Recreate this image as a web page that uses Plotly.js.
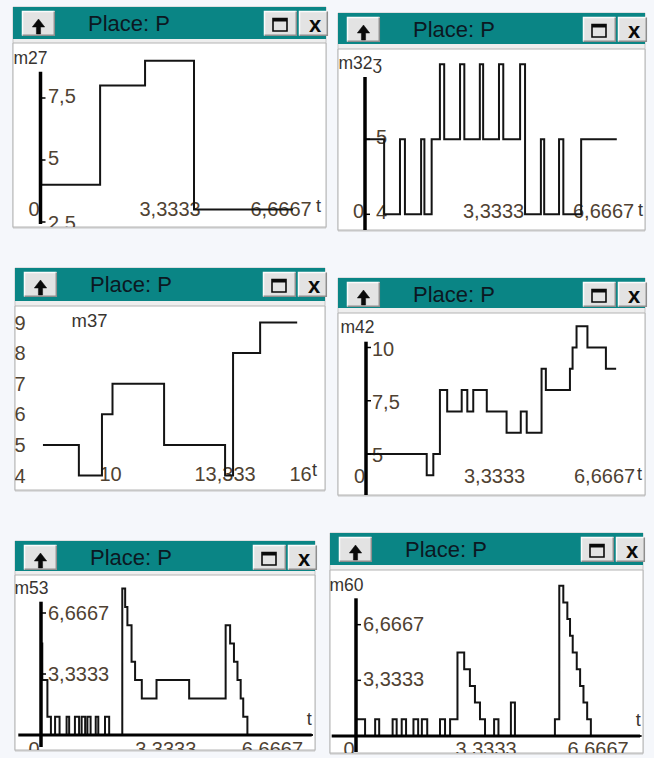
<!DOCTYPE html>
<html><head><meta charset="utf-8">
<script src="https://cdn.plot.ly/plotly-3.0.1.min.js"></script>
<style>html,body{margin:0;padding:0;background:#f5f7fb;}#chart{width:654px;height:758px;}</style>
</head><body><div id="chart"></div>
<script>
// ---------------- data ----------------
const title_text = 'Place: P';

const p1_name = 'm27';
const p1_t = [0, 0.02, 1.79, 3.14, 4.61, 7.58];
const p1_v = [5, 4, 8, 9, 3, 3];
const p1_yTicks = [2.5, 5, 7.5];
const p1_yText = ['2,5', '5', '7,5'];
const p1_xTicks = [0, 3.3333, 6.6667];
const p1_xText = ['0', '3,3333', '6,6667'];

const p2_name = 'm32ʒ';
const p2_t = [0, 0.58, 1.06, 1.21, 1.70, 1.80, 2.02, 2.27, 2.40, 2.88, 3.01, 3.48, 3.58, 4.06, 4.19, 4.70, 4.85, 5.33, 5.43, 5.88, 6.01, 6.55, 7.63];
const p2_v = [5, 4, 5, 4, 5, 4, 5, 6, 5, 6, 5, 6, 5, 6, 5, 6, 4, 5, 4, 5, 4, 5, 5];
const p2_yTicks = [4, 5];
const p2_yText = ['4', '5'];
const p2_xTicks = [0, 3.3333, 6.6667];
const p2_xText = ['0', '3,3333', '6,6667'];

const p3_name = 'm37';
const p3_t = [7.56, 8.82, 9.63, 10, 11.81, 13.95, 14.23, 15.18, 16.48];
const p3_v = [5, 4, 6, 7, 5, 4, 8, 9, 9];
const p3_yTicks = [4, 5, 6, 7, 8, 9];
const p3_yText = ['4', '5', '6', '7', '8', '9'];
const p3_xTicks = [10, 13.333, 16.667];
const p3_xText = ['10', '13,333', '16'];

const p4_name = 'm42';
const p4_t = [0, 1.84, 2.04, 2.24, 2.46, 2.90, 3.07, 3.25, 3.66, 4.26, 4.69, 4.87, 5.32, 5.45, 6.18, 6.26, 6.38, 6.71, 7.27, 7.58];
const p4_v = [5, 4, 5, 8, 7, 8, 7, 8, 7, 6, 7, 6, 9, 8, 9, 10, 11, 10, 9, 9];
const p4_yTicks = [5, 7.5, 10];
const p4_yText = ['5', '7,5', '10'];
const p4_xTicks = [0, 3.3333, 6.6667];
const p4_xText = ['0', '3,3333', '6,6667'];

const p5_name = 'm53';
const p5_t = [0, 0.04, 0.2, 0.31, 0.44, 0.58, 0.8, 0.88, 1.06, 1.19, 1.27, 1.38, 1.45, 1.55, 1.71, 1.79, 2.0, 2.13, 2.54, 2.63, 2.7, 2.83, 2.94, 3.15, 3.61, 4.63, 5.77, 5.91, 6.03, 6.14, 6.24, 6.32, 6.45, 8.5];
const p5_v = [5, 3, 1, 0, 1, 0, 1, 0, 1, 0, 1, 0, 1, 0, 1, 0, 1, 0, 8, 7, 6, 4, 3, 2, 3, 2, 6, 5, 4, 3, 2, 1, 0, 0];
const p5_yTicks = [3.3333, 6.6667];
const p5_yText = ['3,3333', '6,6667'];
const p5_xTicks = [0, 3.3333, 6.6667];
const p5_xText = ['0', '3,3333', '6,6667'];

const p6_name = 'm60';
const p6_t = [0, 0.27, 0.57, 0.69, 1.09, 1.21, 1.36, 1.49, 1.71, 1.85, 1.96, 2.12, 2.5, 2.65, 2.8, 3.02, 3.22, 3.39, 3.54, 3.69, 3.84, 4.11, 4.24, 4.61, 4.73, 5.92, 6.05, 6.17, 6.29, 6.37, 6.45, 6.57, 6.67, 6.77, 6.88, 6.99, 8.5];
const p6_v = [1, 0, 1, 0, 1, 0, 1, 0, 1, 0, 1, 0, 1, 0, 1, 5, 4, 3, 2, 1, 0, 1, 0, 2, 0, 1, 9, 8, 7, 6, 5, 4, 3, 2, 1, 0, 0];
const p6_yTicks = [3.3333, 6.6667];
const p6_yText = ['3,3333', '6,6667'];
const p6_xTicks = [0, 3.3333, 6.6667];
const p6_xText = ['0', '3,3333', '6,6667'];

// ---------------- layout geometry (pixels) ----------------
const W = 654, H = 758;
const FONT = 'Liberation Sans, Arial, sans-serif';
const TEAL = '#0a8585';
const LAB = '#4f4232';
const NAMEC = '#383430';

const panels = [
  {name:p1_name, t:p1_t, v:p1_v, yT:p1_yTicks, yL:p1_yText, xT:p1_xTicks, xL:p1_xText,
   win:{L:13, R:326, T:7, TB:39, PT:43, B:227}, sc:{x0:40.5, xPx:33.3, y0:284, yPx:24.8},
   yAxis:[71.7, 224], xAxis:null,
   lab:{nameX:13.5, nameY:60, tX:316, tY:207, yLabX:48, xLabY:211, yOff:0, xOff:-12, nameSize:17.5, lowOff:3}},
  {name:p2_name, t:p2_t, v:p2_v, yT:p2_yTicks, yL:p2_yText, xT:p2_xTicks, xL:p2_xText,
   win:{L:338, R:645, T:13, TB:44, PT:49, B:230}, sc:{x0:365, xPx:33, y0:514.3, yPx:75},
   yAxis:[77, 232], xAxis:null,
   lab:{nameX:338.5, nameY:65, tX:638, tY:211, yLabX:376, xLabY:213, yOff:0, xOff:-12, nameSize:17.5, lowOff:0}},
  {name:p3_name, t:p3_t, v:p3_v, yT:p3_yTicks, yL:p3_yText, xT:p3_xTicks, xL:p3_xText,
   win:{L:15, R:325, T:268, TB:301, PT:306, B:490}, sc:{x0:-172.5, xPx:28.5, y0:597.9, yPx:30.6},
   yAxis:null, xAxis:null,
   lab:{nameX:71.5, nameY:322.7, tX:312, tY:471, yLabX:14.5, xLabY:476, yOff:2, xOff:-13, nameSize:18.5, lowOff:0}},
  {name:p4_name, t:p4_t, v:p4_v, yT:p4_yTicks, yL:p4_yText, xT:p4_xTicks, xL:p4_xText,
   win:{L:338, R:645, T:278, TB:308, PT:313, B:495}, sc:{x0:366, xPx:33, y0:560.5, yPx:21.3},
   yAxis:[341.7, 497], xAxis:null,
   lab:{nameX:340.5, nameY:328.3, tX:637, tY:475.7, yLabX:372, xLabY:478, yOff:3, xOff:-12, nameSize:17.5, lowOff:0}},
  {name:p5_name, t:p5_t, v:p5_v, yT:p5_yTicks, yL:p5_yText, xT:p5_xTicks, xL:p5_xText,
   win:{L:15, R:315, T:541, TB:571, PT:575, B:750}, sc:{x0:41, xPx:32, y0:735, yPx:18.3},
   yAxis:[601.7, 747], xAxis:[18.3, 311.7],
   lab:{nameX:14.5, nameY:590, tX:306.7, tY:720, yLabX:48, xLabY:751, yOff:2, xOff:-12.5, nameSize:17.5, lowOff:0}},
  {name:p6_name, t:p6_t, v:p6_v, yT:p6_yTicks, yL:p6_yText, xT:p6_xTicks, xL:p6_xText,
   win:{L:330, R:643, T:533, TB:565, PT:570, B:753}, sc:{x0:356, xPx:33.6, y0:736, yPx:16.7},
   yAxis:[598.3, 752], xAxis:[331.7, 640],
   lab:{nameX:329.5, nameY:586.7, tX:635.7, tY:721.7, yLabX:363, xLabY:751, yOff:1, xOff:-12.5, nameSize:17.5, lowOff:0}}
];

const X = p => p / W;
const Y = p => 1 - p / H;

const traces = [];
const shapes = [];
const annotations = [];
const layout = {
  width: W, height: H, margin: {l:0, r:0, t:0, b:0},
  paper_bgcolor: '#f5f7fb', plot_bgcolor: 'rgba(0,0,0,0)',
  showlegend: false, hovermode: false,
  shapes: shapes, annotations: annotations
};

function rectP(x0, y0, x1, y1, fill, line, lw) {
  shapes.push({type:'rect', xref:'paper', yref:'paper', layer:'below',
    x0:X(x0), x1:X(x1), y0:Y(y1), y1:Y(y0),
    fillcolor: fill, line:{color: line || 'rgba(0,0,0,0)', width: lw || 0}});
}
function pathP(pts, fill, line, lw, layer) {
  let d = '';
  pts.forEach((p, i) => { d += (i ? ' L ' : 'M ') + X(p[0]).toFixed(5) + ',' + Y(p[1]).toFixed(5); });
  if (fill) d += ' Z';
  shapes.push({type:'path', xref:'paper', yref:'paper', layer: layer || 'below', path: d,
    fillcolor: fill || 'rgba(0,0,0,0)', line:{color: line || 'rgba(0,0,0,0)', width: lw || 0}});
}
function button(x0, y0, x1, y1) {
  rectP(x0, y0, x1, y1, '#e3e3e3');
  pathP([[x0 + 0.5, y1 - 0.5], [x0 + 0.5, y0 + 0.5], [x1 - 0.5, y0 + 0.5]], null, '#fbfbfb', 1.5);
  pathP([[x0 + 0.5, y1 - 0.7], [x1 - 0.7, y1 - 0.7], [x1 - 0.7, y0 + 0.5]], null, '#8e8e8e', 1.5);
}

panels.forEach((p, i) => {
  const s = i === 0 ? '' : String(i + 1);
  const w = p.win, sc = p.sc, lb = p.lab;
  const px2t = px => (px - sc.x0) / sc.xPx;
  const py2v = py => (sc.y0 - py) / sc.yPx;

  // window chrome
  rectP(w.L, w.T, w.R, w.B + 1, '#eeeeee', '#c6c6c6', 1);
  rectP(w.L, w.T, w.R, w.TB, TEAL);
  rectP(w.L, w.PT, w.R, w.B, '#ffffff', '#b4b4b4', 1);
  const bt = w.T + 4, bb = w.T + 29;
  button(w.L + 9, bt, w.L + 42, bb);
  button(w.R - 62, bt, w.R - 29, bb);
  button(w.R - 27, bt, w.R + 2, bb);
  // up arrow
  const cx = w.L + 25.5;
  pathP([[cx, w.T + 12], [cx + 6.2, w.T + 20], [cx + 2.1, w.T + 20], [cx + 2.1, w.T + 27],
         [cx - 2.1, w.T + 27], [cx - 2.1, w.T + 20], [cx - 6.2, w.T + 20]], '#0a0a0a', '#0a0a0a', 0.5);
  // restore icon
  rectP(w.R - 53, w.T + 11.5, w.R - 39, w.T + 24, 'rgba(0,0,0,0)', '#0a0a0a', 1.6);
  rectP(w.R - 53, w.T + 11, w.R - 39, w.T + 14.5, '#0a0a0a');
  // close x
  annotations.push({xref:'paper', yref:'paper', x:X(w.R - 10.5), y:Y(w.T + 17.5), xanchor:'center', yanchor:'middle',
    text:'<b>x</b>', showarrow:false, font:{family:FONT, size:22, color:'#0a0a0a'}});
  // title
  annotations.push({xref:'paper', yref:'paper', x:X(w.L + 116), y:Y(w.T + 16.5), xanchor:'center', yanchor:'middle',
    text:title_text, showarrow:false, font:{family:FONT, size:22, color:'#0c1822'}});

  // axes
  layout['xaxis' + s] = {domain:[X(w.L), X(w.R)], range:[px2t(w.L), px2t(w.R)], visible:false, fixedrange:true, anchor:'y' + s};
  layout['yaxis' + s] = {domain:[Y(w.B), Y(w.PT)], range:[py2v(w.B), py2v(w.PT)], visible:false, fixedrange:true, anchor:'x' + s};
  const xr = 'x' + s, yr = 'y' + s;

  if (p.yAxis) {
    shapes.push({type:'line', xref:xr, yref:yr, x0:0, x1:0, y0:py2v(p.yAxis[1]), y1:py2v(p.yAxis[0]),
      line:{color:'#000000', width:3.5}});
    p.yT.forEach(v => shapes.push({type:'line', xref:xr, yref:yr, x0:0, x1:5 / sc.xPx, y0:v, y1:v,
      line:{color:'#000000', width:1.5}}));
  }
  if (p.xAxis) {
    shapes.push({type:'line', xref:xr, yref:yr, x0:px2t(p.xAxis[0]), x1:px2t(p.xAxis[1]), y0:0, y1:0,
      line:{color:'#000000', width:3.2}});
  }

  const common = {type:'scatter', mode:'text', xaxis:xr, yaxis:yr, hoverinfo:'skip', showlegend:false,
    textposition:'middle right', cliponaxis:true};
  // lowest y label of panel 1 sits partly under the frame edge
  const yShift = p.yT.map((v, k) => (k === 0 ? lb.lowOff : 0) + lb.yOff);
  traces.push(Object.assign({}, common, {
    x: p.yT.map(() => px2t(lb.yLabX)), y: p.yT.map((v, k) => v - yShift[k] / sc.yPx), text: p.yL,
    textfont:{family:FONT, size:20, color:LAB}}));
  traces.push(Object.assign({}, common, {
    x: p.xT.map(t => t + lb.xOff / sc.xPx), y: p.xT.map(() => py2v(lb.xLabY)), text: p.xL,
    textfont:{family:FONT, size:20, color:LAB}}));
  traces.push(Object.assign({}, common, {
    x: [px2t(lb.nameX)], y: [py2v(lb.nameY)], text: [p.name],
    textfont:{family:FONT, size:lb.nameSize, color:NAMEC}}));
  traces.push(Object.assign({}, common, {
    x: [px2t(lb.tX)], y: [py2v(lb.tY)], text: ['t'],
    textfont:{family:FONT, size:18, color:NAMEC}}));

  traces.push({type:'scatter', mode:'lines', x:p.t, y:p.v, xaxis:xr, yaxis:yr, hoverinfo:'skip', showlegend:false,
    line:{shape:'hv', color:'#141414', width:2}, cliponaxis:true});
});

Plotly.newPlot('chart', traces, layout, {staticPlot:true, displayModeBar:false});
</script>
</body></html>
